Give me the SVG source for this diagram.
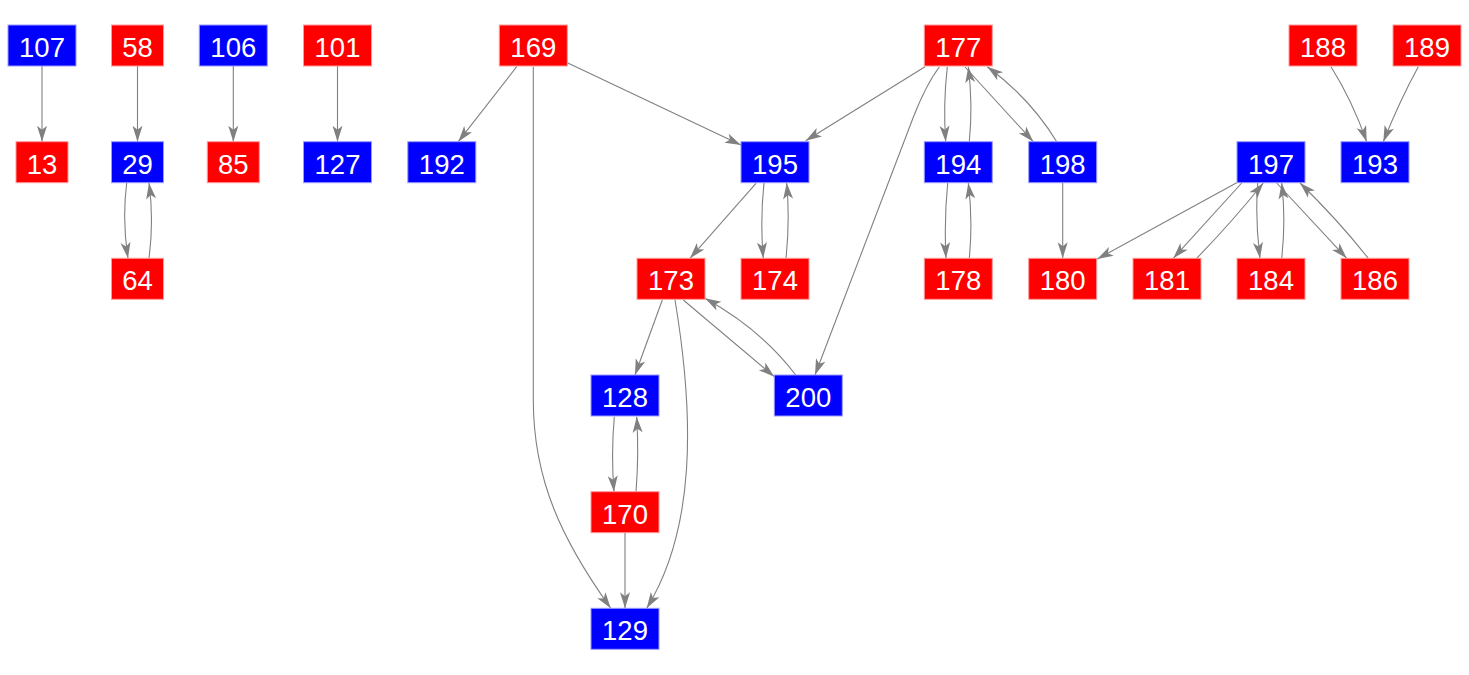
<svg xmlns="http://www.w3.org/2000/svg" width="1469" height="675" viewBox="0 0 1469 675">
<style>
.r{fill:#ff0000;stroke:#ff9a9a;stroke-width:1}
.b{fill:#0000ff;stroke:#9a9aff;stroke-width:1}
.t{fill:#ffffff;font-family:"Liberation Sans",Arial,sans-serif;font-size:27.5px;text-anchor:middle}
.e{fill:none;stroke:#808080;stroke-width:1.1;marker-end:url(#a)}
</style>
<defs>
<marker id="a" markerUnits="userSpaceOnUse" viewBox="-17 -6 17 12" refX="0" refY="0" markerWidth="17" markerHeight="12" orient="auto">
<path d="M0,0 L-16,-5 L-12,0 L-16,5 Z" fill="#808080"/>
</marker>
</defs>
<rect width="1469" height="675" fill="#ffffff"/>
<g id="edges">
<path class="e" d="M42,66 L42,141.7"/>
<path class="e" d="M137.5,66 L137.5,141.7"/>
<path class="e" d="M233.3,66 L233.3,141.7"/>
<path class="e" d="M337.5,66 L337.5,141.7"/>
<path class="e" d="M126.7,183 Q122,220 128,258.3"/>
<path class="e" d="M149,258.3 Q154,220 149,183"/>
<path class="e" d="M516.7,66.7 L458.3,141.7"/>
<path class="e" d="M567.3,62.7 L741,145"/>
<path class="e" d="M533.3,66.7 L533.3,400 C533.3,480 562,540 610.7,608.3"/>
<path class="e" d="M925,66.7 L805.7,140.7"/>
<path class="e" d="M939.3,67 C928,82 920,100 913,118 L815,375"/>
<path class="e" d="M947.3,67 Q943,105 945.7,141.7"/>
<path class="e" d="M969.3,141.7 Q973,105 968.3,66.7"/>
<path class="e" d="M965,67 L1033.3,141.7"/>
<path class="e" d="M1056.7,141.7 Q1030,98 987.3,66.7"/>
<path class="e" d="M947.7,183 Q944,220 946,258.3"/>
<path class="e" d="M969.3,258.3 Q973,220 968.3,183"/>
<path class="e" d="M1062.7,183 L1062.7,258.3"/>
<path class="e" d="M756,183.3 L690,258.3"/>
<path class="e" d="M764,183 Q760,220 763.3,258.3"/>
<path class="e" d="M786,258.3 Q790,220 786.7,183"/>
<path class="e" d="M662.3,300 L635,375"/>
<path class="e" d="M683.3,300 L774.3,376.7"/>
<path class="e" d="M795.7,375 Q762,330 705,298.3"/>
<path class="e" d="M675,300 C695,420 695,530 646.7,608.3"/>
<path class="e" d="M614.3,416.7 Q611,455 614,491.7"/>
<path class="e" d="M636,491.7 Q639,455 636.7,416.7"/>
<path class="e" d="M625,532.7 L625,608.3"/>
<path class="e" d="M1331,66.7 Q1352,100 1366.7,141.7"/>
<path class="e" d="M1418.3,66.7 Q1400,100 1383.3,141.7"/>
<path class="e" d="M1236.7,182.7 L1097.3,259"/>
<path class="e" d="M1241.7,183 L1173.3,258.3"/>
<path class="e" d="M1196.7,258.3 Q1232,222 1263.3,183"/>
<path class="e" d="M1257.7,183 Q1255,220 1260,258.3"/>
<path class="e" d="M1281.7,258.3 Q1286,220 1281.7,183"/>
<path class="e" d="M1276.7,183 L1346.7,258.3"/>
<path class="e" d="M1368.3,258.3 Q1338,220 1300,183"/>
</g>
<g id="n107"><rect class="b" x="8" y="25" width="68" height="41"/><text class="t" x="42" y="57">107</text></g>
<g id="n58"><rect class="r" x="111.5" y="25" width="52" height="41"/><text class="t" x="137.5" y="57">58</text></g>
<g id="n106"><rect class="b" x="199.3" y="25" width="68" height="41"/><text class="t" x="233.3" y="57">106</text></g>
<g id="n101"><rect class="r" x="303.5" y="25" width="68" height="41"/><text class="t" x="337.5" y="57">101</text></g>
<g id="n169"><rect class="r" x="499.3" y="25" width="68" height="41"/><text class="t" x="533.3" y="57">169</text></g>
<g id="n177"><rect class="r" x="924.3" y="25" width="68" height="41"/><text class="t" x="958.3" y="57">177</text></g>
<g id="n188"><rect class="r" x="1289" y="25" width="68" height="41"/><text class="t" x="1323" y="57">188</text></g>
<g id="n189"><rect class="r" x="1393" y="25" width="68" height="41"/><text class="t" x="1427" y="57">189</text></g>
<g id="n13"><rect class="r" x="16" y="141.7" width="52" height="41"/><text class="t" x="42" y="173.7">13</text></g>
<g id="n29"><rect class="b" x="111.5" y="141.7" width="52" height="41"/><text class="t" x="137.5" y="173.7">29</text></g>
<g id="n85"><rect class="r" x="207.3" y="141.7" width="52" height="41"/><text class="t" x="233.3" y="173.7">85</text></g>
<g id="n127"><rect class="b" x="303.5" y="141.7" width="68" height="41"/><text class="t" x="337.5" y="173.7">127</text></g>
<g id="n192"><rect class="b" x="407.8" y="141.7" width="68" height="41"/><text class="t" x="441.8" y="173.7">192</text></g>
<g id="n195"><rect class="b" x="741" y="141.7" width="68" height="41"/><text class="t" x="775" y="173.7">195</text></g>
<g id="n194"><rect class="b" x="924.3" y="141.7" width="68" height="41"/><text class="t" x="958.3" y="173.7">194</text></g>
<g id="n198"><rect class="b" x="1028.7" y="141.7" width="68" height="41"/><text class="t" x="1062.7" y="173.7">198</text></g>
<g id="n197"><rect class="b" x="1237" y="141.7" width="68" height="41"/><text class="t" x="1271" y="173.7">197</text></g>
<g id="n193"><rect class="b" x="1341" y="141.7" width="68" height="41"/><text class="t" x="1375" y="173.7">193</text></g>
<g id="n64"><rect class="r" x="111.5" y="258.3" width="52" height="41"/><text class="t" x="137.5" y="290.3">64</text></g>
<g id="n173"><rect class="r" x="637" y="258.3" width="68" height="41"/><text class="t" x="671" y="290.3">173</text></g>
<g id="n174"><rect class="r" x="741" y="258.3" width="68" height="41"/><text class="t" x="775" y="290.3">174</text></g>
<g id="n178"><rect class="r" x="924.3" y="258.3" width="68" height="41"/><text class="t" x="958.3" y="290.3">178</text></g>
<g id="n180"><rect class="r" x="1028.7" y="258.3" width="68" height="41"/><text class="t" x="1062.7" y="290.3">180</text></g>
<g id="n181"><rect class="r" x="1133" y="258.3" width="68" height="41"/><text class="t" x="1167" y="290.3">181</text></g>
<g id="n184"><rect class="r" x="1237" y="258.3" width="68" height="41"/><text class="t" x="1271" y="290.3">184</text></g>
<g id="n186"><rect class="r" x="1341" y="258.3" width="68" height="41"/><text class="t" x="1375" y="290.3">186</text></g>
<g id="n128"><rect class="b" x="591" y="375" width="68" height="41"/><text class="t" x="625" y="407">128</text></g>
<g id="n200"><rect class="b" x="774.3" y="375" width="68" height="41"/><text class="t" x="808.3" y="407">200</text></g>
<g id="n170"><rect class="r" x="591" y="491.7" width="68" height="41"/><text class="t" x="625" y="523.7">170</text></g>
<g id="n129"><rect class="b" x="591" y="608.3" width="68" height="41"/><text class="t" x="625" y="640.3">129</text></g>
</svg>
